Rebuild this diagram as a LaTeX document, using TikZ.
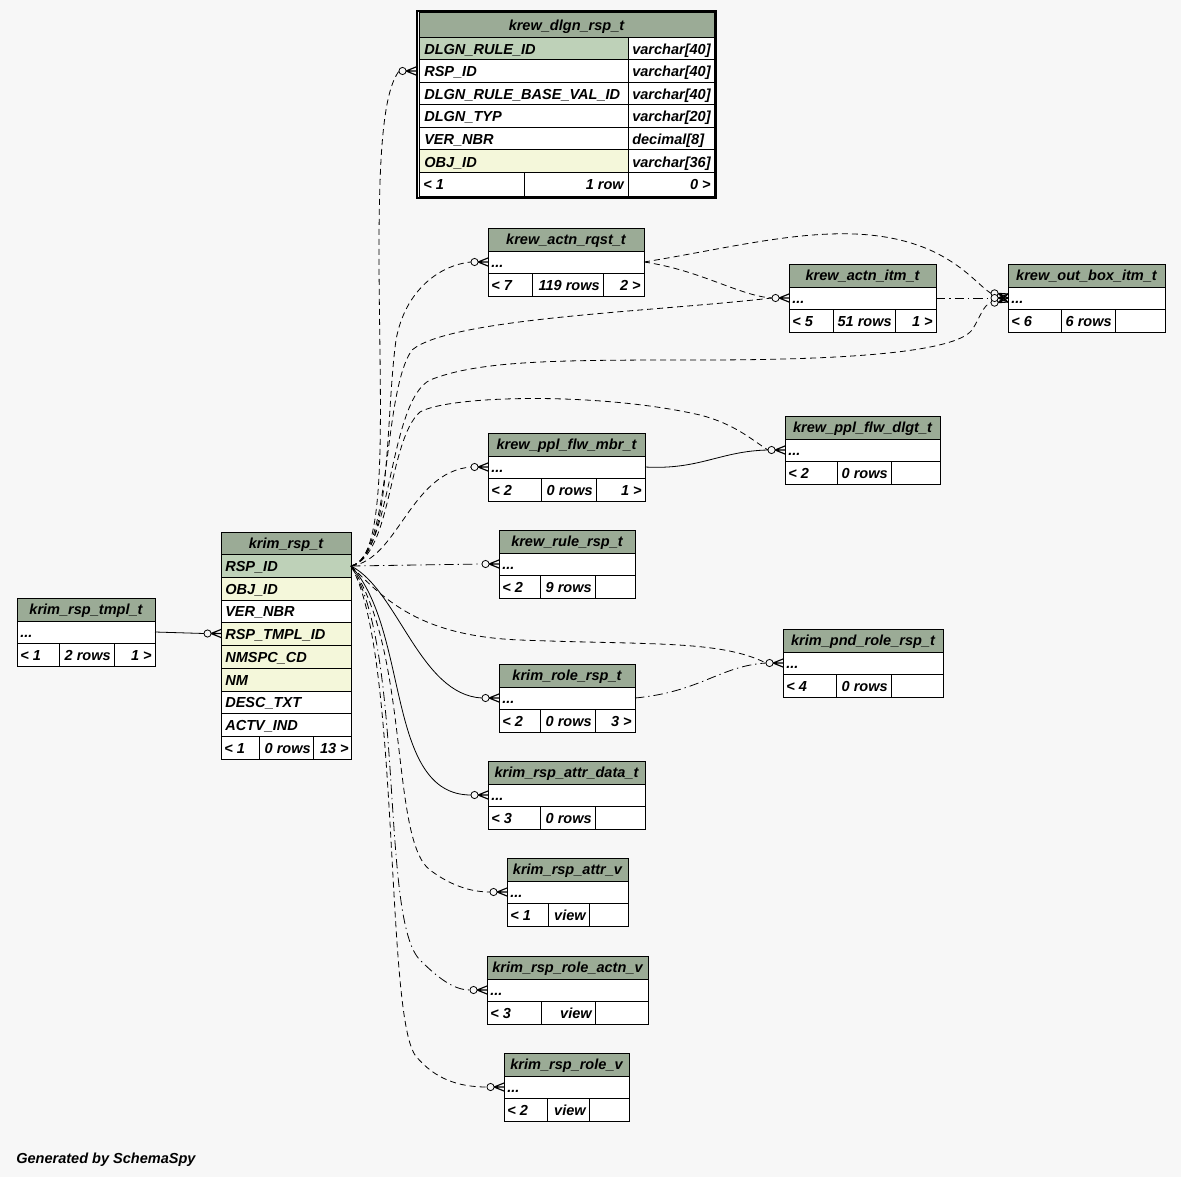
\documentclass[tikz,border=0pt]{standalone}
\usepackage{fontspec}
\setmainfont{Liberation Sans}
\definecolor{bgc}{HTML}{F7F7F7}
\definecolor{hdrc}{HTML}{9BAB96}
\definecolor{pkc}{HTML}{BED1B8}
\definecolor{fkc}{HTML}{F4F7DA}
\newcommand\stab[5]{% id x1 y0 x2 title
 \fill[hdrc] (#2,#3) rectangle (#4,#3+23);
 \fill[white] (#2,#3+23) rectangle (#4,#3+68);
 \draw[tline] (#2,#3) rectangle (#4,#3+68);
 \draw[tline] (#2,#3+23) -- (#4,#3+23) (#2,#3+45) -- (#4,#3+45);
 \node[txt,anchor=base] (#1-title) at ({(#2+#4)/2},#3+16.5) {#5};
 \node[txt,anchor=base west] (#1-dots) at (#2+3,#3+39.5) {...};
 \coordinate (#1-in) at (#2,#3+34);
 \coordinate (#1-out) at (#4,#3+34);}
\newcommand\sfoot[9]{% id x1 y0 x2 d1 d2 l m r
 \draw[tline] (#5,#3+45) -- (#5,#3+68) (#6,#3+45) -- (#6,#3+68);
 \node[txt,anchor=base west] (#1-fl) at (#2+3,#3+62) {#7};
 \node[txt,anchor=base east] (#1-fm) at (#6-3,#3+62) {#8};
 \node[txt,anchor=base east] (#1-fr) at (#4-3,#3+62) {#9};}
\newcommand\crowo[2]{%
 \draw[conn,solid,line width=0.85pt] ([xshift=-7.5pt,yshift=#2]#1) -- ([yshift=3pt]#1)
   ([xshift=-7.5pt,yshift=#2]#1) -- (#1)
   ([xshift=-7.5pt,yshift=#2]#1) -- ([yshift=-3pt]#1);
 \draw[conn,solid,fill=bgc] ([xshift=-10.1pt,yshift=#2]#1) circle[radius=2.7pt];}
\newcommand\crow[1]{\crowo{#1}{0pt}}
\begin{document}
\begin{tikzpicture}[x=0.75pt,y=-0.75pt,
 tline/.style={draw=black,line width=0.75pt},
 conn/.style={draw=black,line width=0.6pt},
 dsh/.style={conn,dash pattern=on 4.5pt off 3pt},
 dshdot/.style={conn,dash pattern=on 7pt off 3pt on 1pt off 3pt},
 txt/.style={inner sep=0pt,font=\fontsize{10.9}{12}\selectfont\bfseries\itshape},
]
\fill[bgc] (0,0) rectangle (1181,1177);
\useasboundingbox (0,0) rectangle (1181,1177);

% ---------- krew_dlgn_rsp_t ----------
\fill[hdrc] (419,13) rectangle (714,38);
\fill[white] (419,38) rectangle (714,196);
\fill[pkc] (419,38) rectangle (628,60);
\fill[fkc] (419,150) rectangle (628,173);
\draw[line width=1.5pt] (417,11) rectangle (716,198);
\draw[tline] (419,13) rectangle (714,196);
\foreach \yy in {38,60,82.5,105,127.5,150,173} \draw[tline] (419,\yy) -- (714,\yy);
\draw[tline] (628,38) -- (628,173) (524,173) -- (524,196) (628,173) -- (628,196);
\node[txt,anchor=base] (dlgn-title) at (566.5,30.5) {krew\_dlgn\_rsp\_t};
\node[txt,anchor=base west] (dlgn-r1) at (424,54.5) {DLGN\_RULE\_ID};
\node[txt,anchor=base west] (dlgn-r2) at (424,76.5) {RSP\_ID};
\node[txt,anchor=base west] (dlgn-r3) at (424,99.5) {DLGN\_RULE\_BASE\_VAL\_ID};
\node[txt,anchor=base west] (dlgn-r4) at (424,121.5) {DLGN\_TYP};
\node[txt,anchor=base west] (dlgn-r5) at (424,144.5) {VER\_NBR};
\node[txt,anchor=base west] (dlgn-r6) at (424,167) {OBJ\_ID};
\node[txt,anchor=base west] (dlgn-t1) at (632,54.5) {varchar[40]};
\node[txt,anchor=base west] (dlgn-t2) at (632,76.5) {varchar[40]};
\node[txt,anchor=base west] (dlgn-t3) at (632,99.5) {varchar[40]};
\node[txt,anchor=base west] (dlgn-t4) at (632,121.5) {varchar[20]};
\node[txt,anchor=base west] (dlgn-t5) at (632,144.5) {decimal[8]};
\node[txt,anchor=base west] (dlgn-t6) at (632,167) {varchar[36]};
\node[txt,anchor=base west] (dlgn-fl) at (423,190) {< 1};
\node[txt,anchor=base east] (dlgn-fm) at (624,190) {1 row};
\node[txt,anchor=base east] (dlgn-fr) at (711,190) {0 >};
\coordinate (dlgn-in) at (416,71);

% ---------- krim_rsp_t ----------
\fill[hdrc] (221,532) rectangle (351,554);
\fill[white] (221,554) rectangle (351,759);
\fill[pkc] (221,554) rectangle (351,577);
\fill[fkc] (221,577) rectangle (351,600);
\fill[fkc] (221,622) rectangle (351,691);
\draw[tline] (221,532) rectangle (351,759);
\foreach \yy in {554,577,600,622,645,668,691,713,736} \draw[tline] (221,\yy) -- (351,\yy);
\draw[tline] (259,736) -- (259,759) (313,736) -- (313,759);
\node[txt,anchor=base] (rsp-title) at (286,548) {krim\_rsp\_t};
\node[txt,anchor=base west] (rsp-r1) at (225,571) {RSP\_ID};
\node[txt,anchor=base west] (rsp-r2) at (225,594) {OBJ\_ID};
\node[txt,anchor=base west] (rsp-r3) at (225,616.5) {VER\_NBR};
\node[txt,anchor=base west] (rsp-r4) at (225,639) {RSP\_TMPL\_ID};
\node[txt,anchor=base west] (rsp-r5) at (225,662) {NMSPC\_CD};
\node[txt,anchor=base west] (rsp-r6) at (225,685) {NM};
\node[txt,anchor=base west] (rsp-r7) at (225,707.5) {DESC\_TXT};
\node[txt,anchor=base west] (rsp-r8) at (225,730) {ACTV\_IND};
\node[txt,anchor=base west] (rsp-fl) at (224,753) {< 1};
\node[txt,anchor=base east] (rsp-fm) at (311,753) {0 rows};
\node[txt,anchor=base east] (rsp-fr) at (349,753) {13 >};
\coordinate (rsp-pk) at (351,566);
\coordinate (rsp-tmpl) at (221,633.5);

% ---------- small tables ----------
\stab{arq}{488}{228}{644}{krew\_actn\_rqst\_t}
\sfoot{arq}{488}{228}{644}{532}{603}{< 7}{119 rows}{2 >}
\stab{aitm}{789}{264}{936}{krew\_actn\_itm\_t}
\sfoot{aitm}{789}{264}{936}{833}{895}{< 5}{51 rows}{1 >}
\stab{obox}{1008}{264}{1165}{krew\_out\_box\_itm\_t}
\sfoot{obox}{1008}{264}{1165}{1061}{1115}{< 6}{6 rows}{}
\stab{dlgt}{785}{416}{940}{krew\_ppl\_flw\_dlgt\_t}
\sfoot{dlgt}{785}{416}{940}{837}{891}{< 2}{0 rows}{}
\stab{mbr}{488}{433}{645}{krew\_ppl\_flw\_mbr\_t}
\sfoot{mbr}{488}{433}{645}{541}{596}{< 2}{0 rows}{1 >}
\stab{rule}{499}{530}{635}{krew\_rule\_rsp\_t}
\sfoot{rule}{499}{530}{635}{540}{595}{< 2}{9 rows}{}
\stab{pnd}{783}{629}{943}{krim\_pnd\_role\_rsp\_t}
\sfoot{pnd}{783}{629}{943}{836}{891}{< 4}{0 rows}{}
\stab{role}{499}{664}{635}{krim\_role\_rsp\_t}
\sfoot{role}{499}{664}{635}{540}{595}{< 2}{0 rows}{3 >}
\stab{attr}{488}{761}{645}{krim\_rsp\_attr\_data\_t}
\sfoot{attr}{488}{761}{645}{540}{595}{< 3}{0 rows}{}
\stab{attrv}{507}{858}{628}{krim\_rsp\_attr\_v}
\sfoot{attrv}{507}{858}{628}{548}{589}{< 1}{view}{}
\stab{ractn}{487}{956}{648}{krim\_rsp\_role\_actn\_v}
\sfoot{ractn}{487}{956}{648}{541}{595}{< 3}{view}{}
\stab{rv}{504}{1053}{629}{krim\_rsp\_role\_v}
\sfoot{rv}{504}{1053}{629}{547}{589}{< 2}{view}{}
\stab{tmpl}{17}{598}{155}{krim\_rsp\_tmpl\_t}
\sfoot{tmpl}{17}{598}{155}{59}{114}{< 1}{2 rows}{1 >}

% ---------- connectors from krim_rsp_t ----------
\draw[dsh] (rsp-pk) .. controls (390,560) and (379,400) .. (379,250) .. controls (379,140) and (385,90) .. ([xshift=-12.75pt]dlgn-in);
\draw[dsh] (rsp-pk) .. controls (392,556) and (385,420) .. (396,340) .. controls (405,290) and (440,265) .. ([xshift=-12.75pt]arq-in);
\draw[dsh] (rsp-pk) .. controls (392,556) and (382,392) .. (412,350) .. controls (450,318) and (650,312) .. ([xshift=-12.75pt]aitm-in);
\draw[dsh] (rsp-pk) .. controls (392,556) and (388,402) .. (430,380) .. controls (480,360) and (560,360) .. (700,360) .. controls (850,360) and (955,352) .. (972,330) .. controls (980,318) and (983,305) .. ([xshift=-12.75pt,yshift=-3.5pt]obox-in);
\draw[dsh] (rsp-pk) .. controls (392,556) and (388,440) .. (420,412) .. controls (450,395) and (600,392) .. (700,415) .. controls (735,424) and (752,440) .. ([xshift=-12.75pt]dlgt-in);
\draw[dsh] (rsp-pk) .. controls (398,560) and (410,472) .. ([xshift=-12.75pt]mbr-in);
\draw[dshdot] (rsp-pk) -- ([xshift=-12.75pt]rule-in);
\draw[dsh] (rsp-pk) .. controls (385,600) and (420,636) .. (520,640) .. controls (650,645) and (720,640) .. ([xshift=-12.75pt]pnd-in);
\draw[conn] (rsp-pk) .. controls (398,590) and (420,695) .. ([xshift=-12.75pt]role-in);
\draw[conn] (rsp-pk) .. controls (410,630) and (385,795) .. ([xshift=-12.75pt]attr-in);
\draw[dsh] (rsp-pk) .. controls (410,650) and (390,840) .. (430,870) .. controls (450,885) and (470,892) .. ([xshift=-12.75pt]attrv-in);
\draw[dshdot] (rsp-pk) .. controls (405,650) and (380,920) .. (420,960) .. controls (440,980) and (455,990) .. ([xshift=-12.75pt]ractn-in);
\draw[dsh] (rsp-pk) .. controls (400,650) and (385,1010) .. (415,1055) .. controls (435,1080) and (460,1087) .. ([xshift=-12.75pt]rv-in);

% ---------- other connectors ----------
\draw[dsh] (arq-out) .. controls (700,270) and (740,296) .. ([xshift=-12.75pt]aitm-in);
\draw[dsh] (arq-out) .. controls (750,245) and (850,215) .. (930,250) .. controls (965,266) and (978,285) .. ([xshift=-12.75pt,yshift=3.5pt]obox-in);
\draw[dshdot] (aitm-out) -- ([xshift=-12.75pt]obox-in);
\draw[conn] (mbr-out) .. controls (700,470) and (720,451) .. ([xshift=-12.75pt]dlgt-in);
\draw[dshdot] (role-out) .. controls (700,692) and (720,666) .. ([xshift=-12.75pt]pnd-in);
\draw[conn] (tmpl-out) -- ([xshift=-12.75pt]rsp-tmpl);

% ---------- end markers ----------
\crow{dlgn-in}
\crow{arq-in}
\crow{aitm-in}
\crowo{obox-in}{3.5pt}
\crowo{obox-in}{-3.5pt}
\crow{obox-in}
\crow{dlgt-in}
\crow{mbr-in}
\crow{rule-in}
\crow{pnd-in}
\crow{role-in}
\crow{attr-in}
\crow{attrv-in}
\crow{ractn-in}
\crow{rv-in}
\crow{rsp-tmpl}

\node[txt,anchor=base west] (footer) at (16,1163) {Generated by SchemaSpy};
\end{tikzpicture}
\end{document}
